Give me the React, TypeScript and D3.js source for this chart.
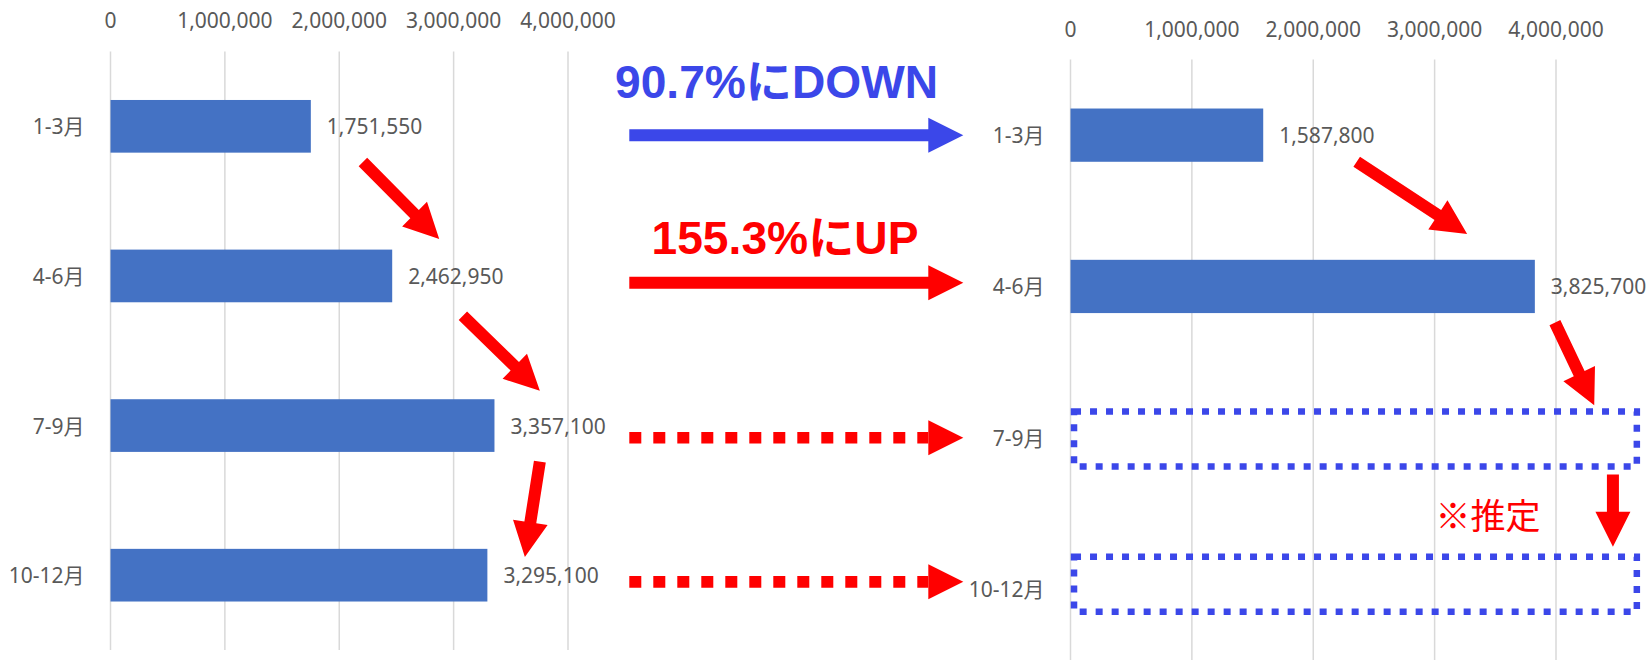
import React from "react";
import * as d3 from "d3";

// 四半期ごとの値（前年・今年）
const categories = ["1-3月", "4-6月", "7-9月", "10-12月"];
const prevYear = [1751550, 2462950, 3357100, 3295100];
const thisYear = [1587800, 3825700];
const xTicks = [0, 1000000, 2000000, 3000000, 4000000];
const estimated = ["7-9月", "10-12月"];

const W = 1650;
const H = 660;
const FONT = "'Noto Sans', 'Noto Sans CJK JP', sans-serif";
const BAR = "#4472C4";
const GRID = "#D9D9D9";
const TXT = "#595959";
const RED = "#FF0000";
const BLUE = "#3B47E9";

const fmt = d3.format(",");

// 矢印の多角形（shaft 12px, head 35px）
const arrowPoints = (x1: number, y1: number, x2: number, y2: number, w = 12, hw = 35, hl = 35) => {
  const len = Math.hypot(x2 - x1, y2 - y1);
  const ux = (x2 - x1) / len, uy = (y2 - y1) / len;
  const nx = -uy, ny = ux;
  const bx = x2 - ux * hl, by = y2 - uy * hl;
  const p = [
    [x1 + nx * w / 2, y1 + ny * w / 2],
    [bx + nx * w / 2, by + ny * w / 2],
    [bx + nx * hw / 2, by + ny * hw / 2],
    [x2, y2],
    [bx - nx * hw / 2, by - ny * hw / 2],
    [bx - nx * w / 2, by - ny * w / 2],
    [x1 - nx * w / 2, y1 - ny * w / 2],
  ];
  return p.map((d) => d.join(",")).join(" ");
};

const makeY = (top: number, bottom: number) =>
  d3.scaleBand<string>().domain(categories).range([top, bottom]).paddingInner(0.648).paddingOuter(0.324);

// 左: 前年
const xL = d3.scaleLinear().domain([0, 4000000]).range([110.5, 568]);
const yL = makeY(51.5, 650);
// 右: 今年
const xR = d3.scaleLinear().domain([0, 4000000]).range([1070.5, 1556]);
const yR = makeY(59.5, 664.7);

// t = カテゴリ位置（小数可）
const posY = (y: d3.ScaleBand<string>, t: number) =>
  (y(categories[0]) as number) + y.bandwidth() / 2 + t * y.step();

// 値・カテゴリ座標での注釈矢印
const leftArrows = [
  [2207000, 0.239, 2874000, 0.753],
  [3081000, 1.266, 3754000, 1.767],
  [3754000, 2.241, 3623000, 2.878],
];
const rightArrows = [
  [2358000, 0.176, 3268000, 0.654],
  [3991000, 1.239, 4315000, 1.785],
  [4469000, 2.243, 4469000, 2.721],
];

const Chart = ({ x, y, values, tickY }: any) => {
  const [y0, y1] = y.range();
  return (
    <g>
      {xTicks.map((t) => (
        <g key={t}>
          <line x1={x(t)} x2={x(t)} y1={y0} y2={y1} stroke={GRID} strokeWidth={1.5} />
          <text x={x(t)} y={tickY} textAnchor="middle" dominantBaseline="central" fill={TXT} fontSize={21}>
            {fmt(t)}
          </text>
        </g>
      ))}
      {categories.map((c) => (
        <text key={c} x={x(0) - 26} y={y(c) + y.bandwidth() / 2} textAnchor="end" dominantBaseline="central" fill={TXT} fontSize={21}>
          {c}
        </text>
      ))}
      {values.map((v: number, i: number) => (
        <g key={i}>
          <rect x={x(0)} y={y(categories[i])} width={x(v) - x(0)} height={y.bandwidth()} fill={BAR} />
          <text x={x(v) + 16} y={y(categories[i]) + y.bandwidth() / 2} dominantBaseline="central" fill={TXT} fontSize={21}>
            {fmt(v)}
          </text>
        </g>
      ))}
    </g>
  );
};

export default function App() {
  const midX1 = 629.3;
  const midBase = 928.3;
  const midTip = 963.3;
  const midRows = [
    { t: 0, color: BLUE, dotted: false },
    { t: 0.975, color: RED, dotted: false },
    { t: 2, color: RED, dotted: true },
    { t: 2.952, color: RED, dotted: true },
  ];
  return (
    <svg
      width={W}
      height={H}
      style={{ position: "absolute", left: 0, top: 0, background: "#fff" }}
      fontFamily={FONT}
    >
      <rect width={W} height={H} fill="#fff" />
      <Chart x={xL} y={yL} values={prevYear} tickY={20} />
      <Chart x={xR} y={yR} values={thisYear} tickY={28.5} />

      {/* 推定枠 */}
      {estimated.map((c, i) => {
        const t = categories.indexOf(c) + (i === 0 ? 0.009 : -0.031);
        const cy = posY(yR, t);
        return (
          <rect
            key={c}
            x={xR(29000)}
            y={cy - 27.5}
            width={xR(4666000) - xR(29000)}
            height={55}
            fill="none"
            stroke={BLUE}
            strokeWidth={6.5}
            strokeDasharray="7 9"
          />
        );
      })}

      {leftArrows.map((a, i) => (
        <polygon key={"l" + i} points={arrowPoints(xL(a[0]), posY(yL, a[1]), xL(a[2]), posY(yL, a[3]))} fill={RED} />
      ))}
      {rightArrows.map((a, i) => (
        <polygon key={"r" + i} points={arrowPoints(xR(a[0]), posY(yR, a[1]), xR(a[2]), posY(yR, a[3]))} fill={RED} />
      ))}

      {/* 中央の横矢印 */}
      {midRows.map((r, i) => {
        const cy = posY(yR, r.t);
        return r.dotted ? (
          <g key={"m" + i}>
            <line x1={midX1} x2={midBase} y1={cy} y2={cy} stroke={r.color} strokeWidth={11.7} strokeDasharray="12 12" />
            <polygon points={`${midBase},${cy - 17.5} ${midTip},${cy} ${midBase},${cy + 17.5}`} fill={r.color} />
          </g>
        ) : (
          <polygon key={"m" + i} points={arrowPoints(midX1, cy, midTip, cy)} fill={r.color} />
        );
      })}

      <text x={776.5} y={98} textAnchor="middle" fontFamily="'Liberation Sans', 'Noto Sans CJK JP', sans-serif" fontWeight="bold" fontSize={46} fill={BLUE} textLength={323} lengthAdjust="spacingAndGlyphs">
        90.7%にDOWN
      </text>
      <text x={785} y={254} textAnchor="middle" fontFamily="'Liberation Sans', 'Noto Sans CJK JP', sans-serif" fontWeight="bold" fontSize={46} fill={RED} textLength={267} lengthAdjust="spacingAndGlyphs">
        155.3%にUP
      </text>
      <text x={1488} y={513} textAnchor="middle" dominantBaseline="central" fontFamily="'Noto Sans CJK JP', sans-serif" fontSize={35} fill={RED}>
        ※推定
      </text>
    </svg>
  );
}
